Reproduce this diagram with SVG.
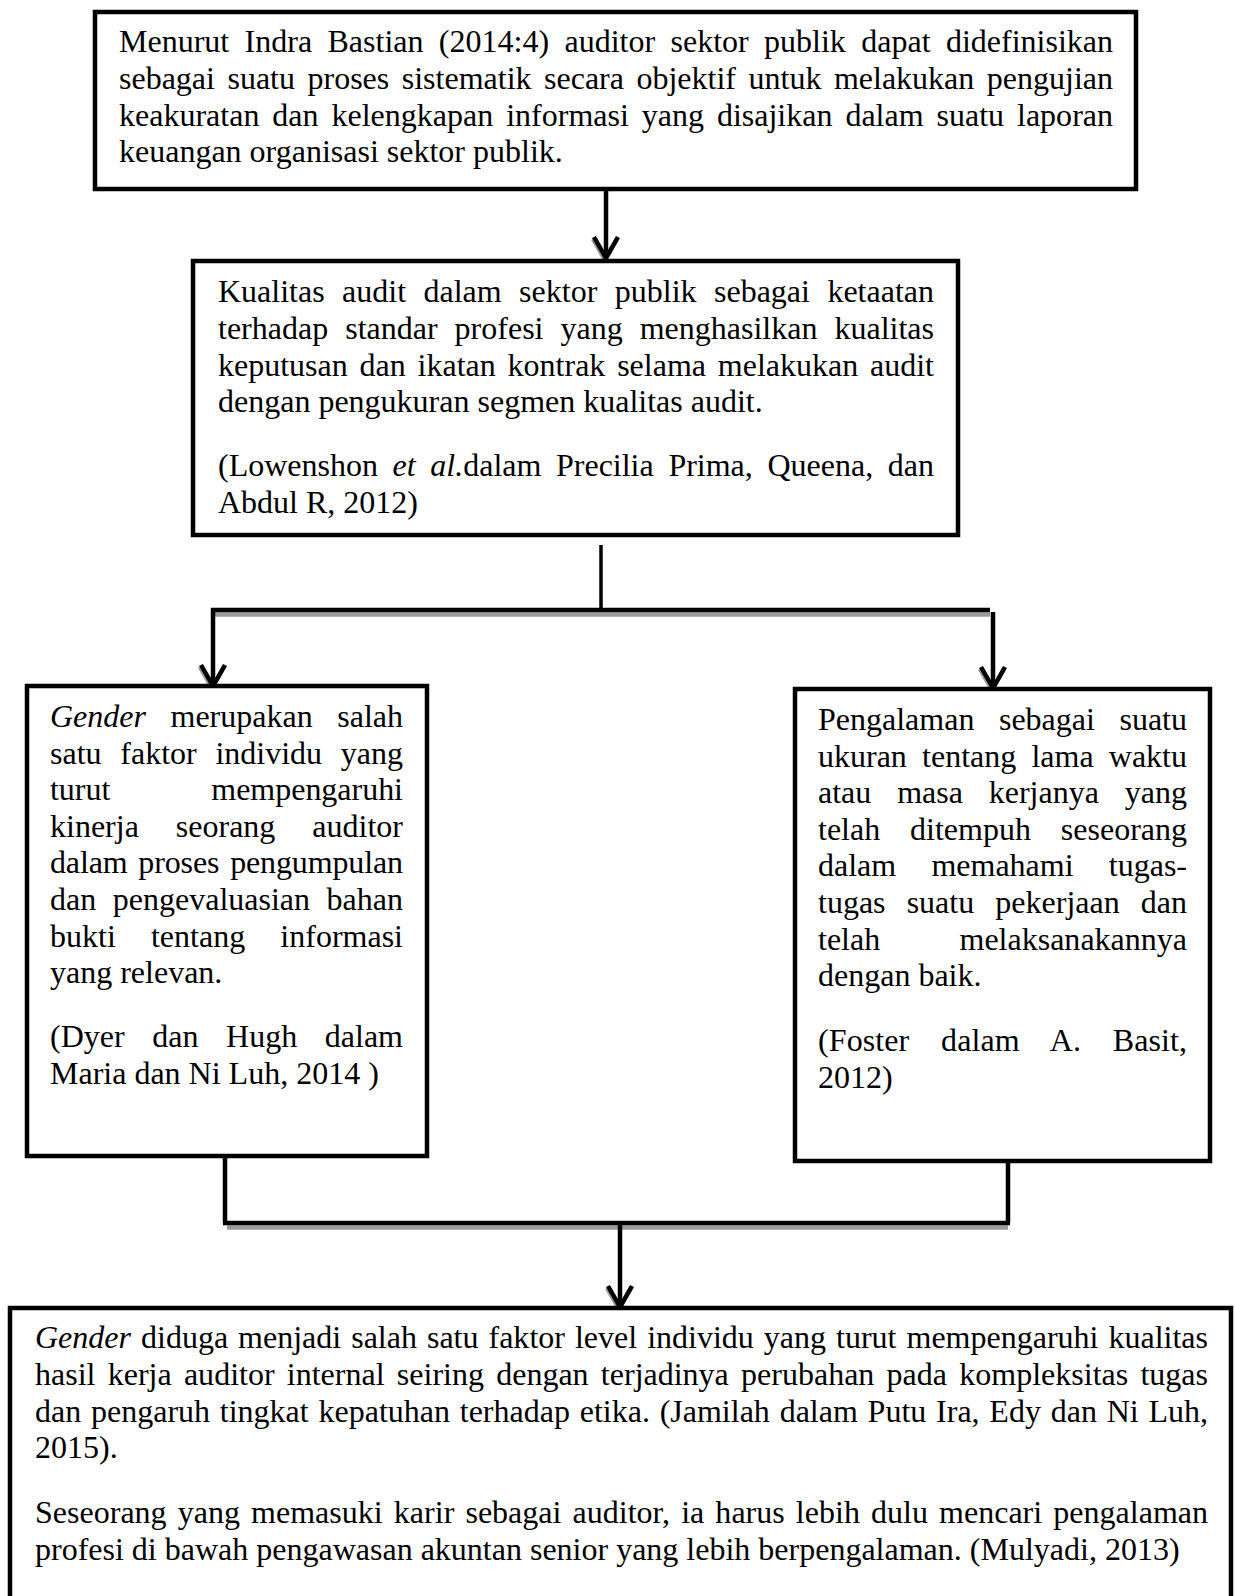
<svg xmlns="http://www.w3.org/2000/svg" width="1235" height="1596" viewBox="0 0 1235 1596">
<style>
.box{fill:#fff;stroke:#000;stroke-width:4.5}
.t{font-family:"Liberation Serif","Times New Roman",serif;font-size:32px;fill:#000}
.i{font-style:italic}
.ln{fill:none;stroke:#000;stroke-width:4.5}
.sh{fill:none;stroke:#9a9a9a;stroke-width:4.5}
</style>
<defs>
<marker id="arr" markerUnits="userSpaceOnUse" orient="auto" refX="0" refY="0" markerWidth="30" markerHeight="30" overflow="visible">
<path d="M-21,-12 L0,0 L-21,12" transform="translate(2,1)" fill="none" stroke="#9a9a9a" stroke-width="4.5"/>
<path d="M-21,-12 L0,0 L-21,12" fill="none" stroke="#000" stroke-width="4.5"/>
</marker>
</defs>
<rect width="1235" height="1596" fill="#fff"/>
<g id="connectors">
<line class="ln" x1="606" y1="189" x2="606" y2="258" marker-end="url(#arr)"/>
<line class="ln" x1="601" y1="545" x2="601" y2="610" style="stroke-width:3.5"/>
<line class="sh" x1="215" y1="614.5" x2="990" y2="614.5"/>
<line class="ln" x1="211" y1="610" x2="990" y2="610"/>
<line class="ln" x1="213" y1="608" x2="213" y2="686" marker-end="url(#arr)"/>
<line class="ln" x1="993" y1="612" x2="993" y2="688" marker-end="url(#arr)"/>
<line class="ln" x1="225" y1="1156" x2="225" y2="1223"/>
<line class="ln" x1="1008" y1="1161" x2="1008" y2="1223"/>
<line class="sh" x1="227" y1="1227.5" x2="1008" y2="1227.5"/>
<line class="ln" x1="223" y1="1223" x2="1010" y2="1223"/>
<line class="ln" x1="620" y1="1223" x2="620" y2="1307" marker-end="url(#arr)"/>
</g>
<g id="n1">
<rect class="box" x="95" y="12" width="1041" height="177"/>
<text class="t" x="119" y="52" word-spacing="7.4" textLength="994" lengthAdjust="spacing">Menurut Indra Bastian (2014:4) auditor sektor publik dapat didefinisikan</text>
<text class="t" x="119" y="88.8" word-spacing="4.5" textLength="994" lengthAdjust="spacing">sebagai suatu proses sistematik secara objektif untuk melakukan pengujian</text>
<text class="t" x="119" y="125.6" word-spacing="4.9" textLength="994" lengthAdjust="spacing">keakuratan dan kelengkapan informasi yang disajikan dalam suatu laporan</text>
<text class="t" x="119" y="162.4">keuangan organisasi sektor publik.</text>
</g>
<g id="n2">
<rect class="box" x="193" y="261" width="765" height="274"/>
<text class="t" x="218" y="302" word-spacing="9.4" textLength="716" lengthAdjust="spacing">Kualitas audit dalam sektor publik sebagai ketaatan</text>
<text class="t" x="218" y="338.8" word-spacing="9" textLength="716" lengthAdjust="spacing">terhadap standar profesi yang menghasilkan kualitas</text>
<text class="t" x="218" y="375.6" word-spacing="3.8" textLength="716" lengthAdjust="spacing">keputusan dan ikatan kontrak selama melakukan audit</text>
<text class="t" x="218" y="412.4">dengan pengukuran segmen kualitas audit.</text>
<text class="t" x="218" y="476" word-spacing="6.7" textLength="716" lengthAdjust="spacing">(Lowenshon <tspan class="i">et al.</tspan>dalam Precilia Prima, Queena, dan</text>
<text class="t" x="218" y="512.8">Abdul R, 2012)</text>
</g>
<g id="n3">
<rect class="box" x="27" y="686" width="400" height="470"/>
<text class="t" x="50" y="727" word-spacing="16.5" textLength="353" lengthAdjust="spacing"><tspan class="i">Gender</tspan> merupakan salah</text>
<text class="t" x="50" y="763.6" word-spacing="10.7" textLength="353" lengthAdjust="spacing">satu faktor individu yang</text>
<text class="t" x="50" y="800.2" word-spacing="93" textLength="353" lengthAdjust="spacing">turut mempengaruhi</text>
<text class="t" x="50" y="836.8" word-spacing="29" textLength="353" lengthAdjust="spacing">kinerja seorang auditor</text>
<text class="t" x="50" y="873.4" word-spacing="3" textLength="353" lengthAdjust="spacing">dalam proses pengumpulan</text>
<text class="t" x="50" y="910" word-spacing="8.5" textLength="353" lengthAdjust="spacing">dan pengevaluasian bahan</text>
<text class="t" x="50" y="946.6" word-spacing="27.2" textLength="353" lengthAdjust="spacing">bukti tentang informasi</text>
<text class="t" x="50" y="983.2">yang relevan.</text>
<text class="t" x="50" y="1047" word-spacing="19.6" textLength="353" lengthAdjust="spacing">(Dyer dan Hugh dalam</text>
<text class="t" x="50" y="1083.6">Maria dan Ni Luh, 2014 )</text>
</g>
<g id="n4">
<rect class="box" x="795" y="689" width="415" height="472"/>
<text class="t" x="818" y="730" word-spacing="16.5" textLength="369" lengthAdjust="spacing">Pengalaman sebagai suatu</text>
<text class="t" x="818" y="766.6" word-spacing="7.2" textLength="369" lengthAdjust="spacing">ukuran tentang lama waktu</text>
<text class="t" x="818" y="803.2" word-spacing="17.8" textLength="369" lengthAdjust="spacing">atau masa kerjanya yang</text>
<text class="t" x="818" y="839.8" word-spacing="21.9" textLength="369" lengthAdjust="spacing">telah ditempuh seseorang</text>
<text class="t" x="818" y="876.4" word-spacing="27.2" textLength="369" lengthAdjust="spacing">dalam memahami tugas-</text>
<text class="t" x="818" y="913" word-spacing="13.1" textLength="369" lengthAdjust="spacing">tugas suatu pekerjaan dan</text>
<text class="t" x="818" y="949.6" word-spacing="71.3" textLength="369" lengthAdjust="spacing">telah melaksanakannya</text>
<text class="t" x="818" y="986.2">dengan baik.</text>
<text class="t" x="818" y="1051" word-spacing="23.7" textLength="369" lengthAdjust="spacing">(Foster dalam A. Basit,</text>
<text class="t" x="818" y="1087.6">2012)</text>
</g>
<g id="n5">
<rect class="box" x="10" y="1308" width="1221" height="330"/>
<text class="t" x="35" y="1348" word-spacing="2" textLength="1173" lengthAdjust="spacing"><tspan class="i">Gender</tspan> diduga menjadi salah satu faktor level individu yang turut mempengaruhi kualitas</text>
<text class="t" x="35" y="1384.8" word-spacing="4.25" textLength="1173" lengthAdjust="spacing">hasil kerja auditor internal seiring dengan terjadinya perubahan pada kompleksitas tugas</text>
<text class="t" x="35" y="1421.6" word-spacing="1.77" textLength="1173" lengthAdjust="spacing">dan pengaruh tingkat kepatuhan terhadap etika. (Jamilah dalam Putu Ira, Edy dan Ni Luh,</text>
<text class="t" x="35" y="1458.4">2015).</text>
<text class="t" x="35" y="1523" word-spacing="3.1" textLength="1173" lengthAdjust="spacing">Seseorang yang memasuki karir sebagai auditor, ia harus lebih dulu mencari pengalaman</text>
<text class="t" x="35" y="1559.8">profesi di bawah pengawasan akuntan senior yang lebih berpengalaman. (Mulyadi, 2013)</text>
</g>
</svg>
